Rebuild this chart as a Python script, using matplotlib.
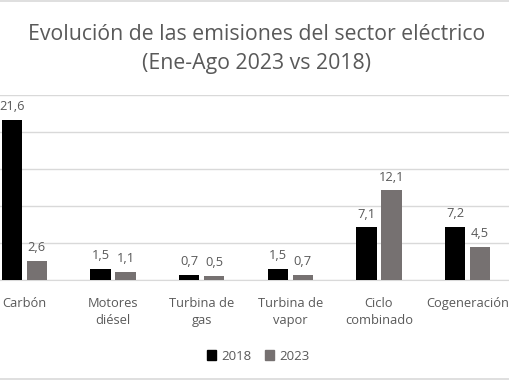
import numpy as np
import matplotlib
matplotlib.use('Agg')
import matplotlib.pyplot as plt
from matplotlib.patches import Rectangle

plt.rcParams['font.family'] = ['Open Sans', 'DejaVu Sans']

# data
categories = ['Carbón', 'Motores\ndiésel', 'Turbina de\ngas', 'Turbina de\nvapor',
              'Ciclo\ncombinado', 'Cogeneración']
series_names = ['2018', '2023']
vals_2018 = [21.6, 1.5, 0.7, 1.5, 7.1, 7.2]
vals_2023 = [2.6, 1.1, 0.5, 0.7, 12.1, 4.5]
y_ticks = [0, 5, 10, 15, 20, 25]

title_1 = 'Evolución de las emisiones del sector eléctrico'
title_2 = '(Ene-Ago 2023 vs 2018)'

txt_col = '#595959'
grid_col = '#d9d9d9'
colors = ['#000000', '#767171']

W, H = 510, 382
fig = plt.figure(figsize=(W / 100, H / 100), dpi=100)

# plot area runs a bit past the picture edges (the original is cropped)
left_px, right_px = -20, 512
top_px, base_px = 95, 280
ax = fig.add_axes([left_px / W, (H - base_px) / H,
                   (right_px - left_px) / W, (base_px - top_px) / H])

x = np.arange(len(categories))
bw = 0.226
off = 0.141
for i, (vals, col) in enumerate(zip([vals_2018, vals_2023], colors)):
    xs = x + (-off if i == 0 else off)
    ax.bar(xs, vals, width=bw, color=col, zorder=3)
    for xv, v in zip(xs, vals):
        ax.annotate(f'{v:.1f}'.replace('.', ','), (xv, v), xytext=(0, 5),
                    textcoords='offset points', ha='center', va='bottom',
                    fontsize=9.3, color=txt_col)

ax.set_xlim(-0.5, len(categories) - 0.5)
ax.set_ylim(0, 25)
ax.set_yticks(y_ticks)
ax.tick_params(axis='y', length=0, labelleft=False)
ax.grid(axis='y', color=grid_col, linewidth=1, zorder=0)
ax.set_axisbelow(True)
for s in ['left', 'right', 'top']:
    ax.spines[s].set_visible(False)
ax.spines['bottom'].set_color(grid_col)
ax.set_xticks(x)
ax.set_xticklabels(categories, fontsize=9.3, color=txt_col, linespacing=1.45)
ax.tick_params(axis='x', length=0, pad=12)

# titles
fig.text(257 / W, 1 - 34 / H, title_1, ha='center', va='center',
         fontsize=15.3, color=txt_col)
fig.text(257 / W, 1 - 63 / H, title_2, ha='center', va='center',
         fontsize=15.3, color=txt_col)

# legend
handles = [Rectangle((0, 0), 1, 1, color=c) for c in colors]
fig.legend(handles, series_names, loc='center', bbox_to_anchor=(258 / W, 1 - 356 / H),
           ncol=2, frameon=False, fontsize=9.5, labelcolor=txt_col,
           handlelength=0.7, handleheight=0.7, handletextpad=0.4, columnspacing=1.0)

# chart border lines
fig.add_artist(plt.Line2D([0, 1], [1 - 1 / H, 1 - 1 / H], color=grid_col, lw=1.2))
fig.add_artist(plt.Line2D([0, 1], [1 - 379 / H, 1 - 379 / H], color=grid_col, lw=1.2))

fig.savefig('out.png', dpi=100)
